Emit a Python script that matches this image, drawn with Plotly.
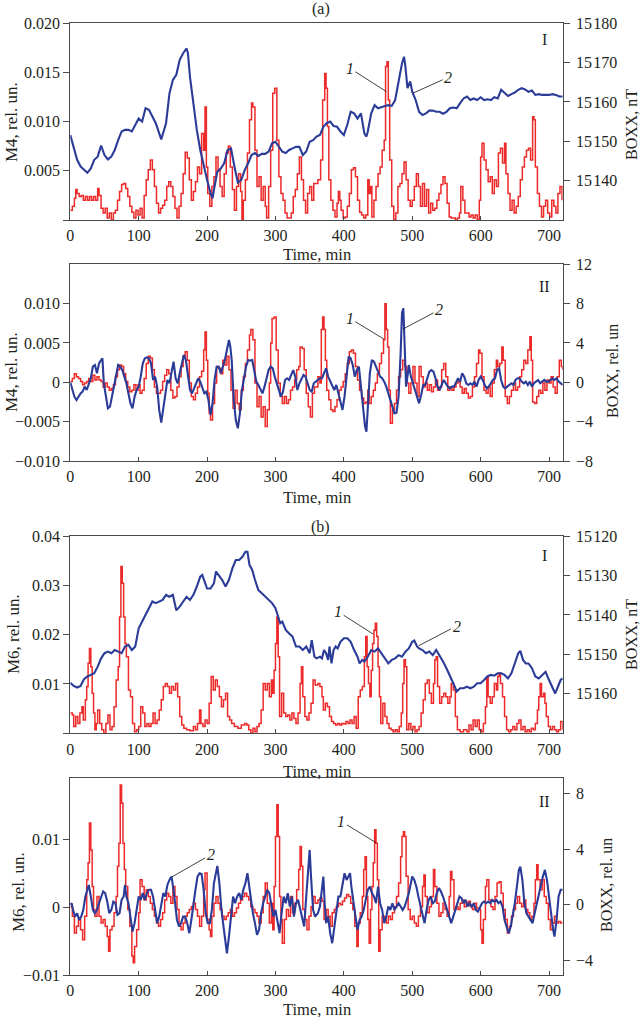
import plotly.graph_objects as go

# ---------------- DATA (time in min, value) ----------------
TIME_TICKS = [0, 100, 200, 300, 400, 500, 600, 700]
TIME_TICK_LABELS = ["0", "100", "200", "300", "400", "500", "600", "700"]

# Panel (a) I : M4 (red, left) and BOXX nT (blue, right)
A1_RED = [(0,.0010),(3,.0014),(6,.0022),(8,.0031),(10,.0027),(13,.0024),(16,.0025),(19,.0020),(22,.0024),(25,.0020),
 (28,.0024),(31,.0020),(34,.0024),(37,.0020),(40,.0032),(42,.0025),(45,.0012),(48,.0007),(51,.0012),(54,.0002),
 (57,.0007),(60,.0000),(63,.0007),(66,.0010),(69,.0020),(72,.0029),(75,.0036),(78,.0037),(81,.0032),(84,.0024),
 (87,.0014),(90,.0008),(93,.0002),(96,.0010),(99,.0005),(102,.0012),(105,.0002),(108,.0025),(111,.0041),(114,.0051),
 (117,.0061),(120,.0051),(123,.0034),(126,.0017),(129,.0007),(132,.0012),(135,.0015),(138,.0020),(141,.0034),(144,.0039),
 (147,.0034),(150,.0024),(153,.0012),(156,.0002),(159,.0014),(162,.0027),(165,.0047),(168,.0069),(171,.0063),(174,.0041),
 (177,.0020),(180,.0029),(183,.0039),(186,.0054),(189,.0047),(192,.0088),(195,.0071),(197,.0115),(199,.0054),(201,.0027),
 (204,.0014),(207,.0034),(210,.0044),(213,.0064),(216,.0051),(219,.0034),(222,.0024),(225,.0047),(228,.0068),(231,.0075),
 (234,.0054),(237,.0031),(240,.0010),(243,.0034),(246,.0047),(249,.0029),(251,.0000),(253,.0020),(256,.0041),(259,.0068),
 (262,.0102),(265,.0119),(267,.0115),(270,.0071),(273,.0034),(276,.0044),(279,.0020),(282,.0034),(285,.0014),(287,.0002),
 (290,.0034),(293,.0071),(296,.0129),(299,.0134),(302,.0081),(305,.0044),(308,.0027),(311,.0020),(314,.0007),(317,.0002),
 (320,.0002),(323,.0007),(326,.0024),(329,.0031),(332,.0047),(335,.0064),(338,.0041),(341,.0020),(344,.0007),(347,.0027),
 (350,.0034),(353,.0020),(356,.0037),(362,.0041),(366,.0061),(369,.0122),(372,.0149),(374,.0134),(376,.0095),(378,.0041),
 (381,.0020),(384,.0010),(387,.0003),(390,.0017),(392,.0029),(394,.0020),(396,.0010),(399,.0002),(402,.0003),(405,.0014),
 (408,.0027),(411,.0051),(414,.0053),(417,.0044),(420,.0020),(423,.0008),(426,.0005),(429,.0002),(432,.0005),(435,.0041),
 (437,.0027),(439,.0034),(441,.0003),(444,.0020),(447,.0034),(450,.0047),(453,.0054),(456,.0071),(459,.0081),(461,.0156),
 (463,.0161),(465,.0122),(467,.0061),(470,.0014),(473,.0000),(476,.0007),(479,.0034),(482,.0037),(485,.0047),(488,.0059),
 (491,.0041),(494,.0020),(497,.0014),(500,.0020),(503,.0034),(506,.0047),(509,.0034),(512,.0014),(515,.0037),(518,.0014),
 (521,.0031),(524,.0007),(527,.0017),(530,.0010),(533,.0012),(536,.0020),(539,.0027),(542,.0036),(545,.0044),(548,.0037),
 (551,.0017),(554,.0003),(557,.0002),(560,.0002),(563,.0000),(566,.0002),(569,.0007),(571,.0034),(574,.0020),(577,.0007),
 (580,.0007),(583,.0003),(586,.0005),(589,.0002),(592,.0005),(595,.0000),(598,.0020),(600,.0064),(602,.0078),(605,.0061),
 (608,.0051),(611,.0039),(614,.0044),(617,.0027),(620,.0041),(623,.0034),(626,.0068),(629,.0073),(632,.0058),(635,.0078),
 (637,.0047),(640,.0027),(643,.0010),(646,.0020),(649,.0007),(652,.0014),(655,.0024),(658,.0041),(661,.0054),(664,.0064),
 (667,.0071),(670,.0073),(673,.0061),(676,.0105),(678,.0102),(680,.0054),(683,.0027),(686,.0014),(689,.0003),(692,.0014),
 (695,.0020),(698,.0007),(701,.0003),(704,.0020),(707,.0014),(710,.0007),(713,.0027),(716,.0034),(719,.0020)]

A1_BLUE = [(0,15151.6),(5,15148.6),(10,15145.3),(15,15143.6),(20,15142.7),(25,15142.0),(30,15143.1),(35,15145.3),
 (40,15146.1),(45,15148.9),(50,15146.5),(55,15145.4),(60,15146.1),(65,15147.8),(70,15150.3),(75,15152.5),(80,15152.9),
 (85,15152.9),(90,15152.5),(95,15154.2),(100,15155.8),(105,15155.0),(110,15158.4),(115,15158.0),(120,15156.3),(125,15154.6),
 (130,15152.0),(133,15150.5),(140,15154.6),(145,15162.2),(150,15165.6),(155,15166.9),(160,15170.7),(165,15172.4),(170,15173.6),
 (172,15172.4),(175,15166.4),(180,15159.7),(185,15152.9),(190,15147.8),(195,15143.6),(200,15140.2),(205,15136.8),(208,15135.5),
 (210,15137.6),(215,15142.3),(220,15143.1),(225,15144.4),(230,15147.8),(235,15148.2),(240,15143.6),(245,15139.5),(250,15140.2),
 (255,15142.7),(260,15144.4),(265,15146.5),(270,15147.0),(275,15146.3),(280,15146.8),(285,15146.8),(290,15147.4),(295,15149.5),
 (300,15149.9),(305,15148.6),(310,15147.4),(315,15147.0),(320,15147.8),(325,15148.2),(330,15148.6),(335,15148.6),(340,15146.5),
 (345,15147.4),(350,15149.9),(355,15150.3),(360,15151.2),(365,15151.6),(370,15153.7),(375,15154.6),(380,15155.0),(385,15153.9),
 (390,15153.7),(395,15152.5),(400,15151.6),(405,15154.2),(410,15157.5),(415,15157.1),(420,15155.8),(425,15157.1),(430,15152.0),
 (433,15151.2),(435,15152.5),(440,15157.1),(445,15159.2),(450,15158.4),(455,15158.8),(460,15159.0),(465,15159.2),(470,15159.0),
 (475,15160.5),(480,15165.6),(485,15169.8),(488,15171.5),(490,15169.0),(493,15163.5),(497,15165.2),(500,15162.6),(505,15160.5),
 (510,15157.5),(515,15156.7),(520,15157.1),(525,15157.8),(530,15157.8),(535,15157.5),(540,15157.5),(545,15157.0),(550,15157.5),
 (555,15158.4),(560,15158.6),(565,15158.4),(570,15159.7),(575,15160.9),(580,15161.4),(585,15160.5),(590,15160.9),(595,15160.5),
 (600,15161.2),(605,15160.5),(610,15160.7),(615,15160.5),(620,15161.2),(625,15160.9),(630,15163.1),(635,15162.2),(640,15161.5),
 (645,15162.0),(650,15162.4),(655,15163.1),(660,15163.5),(665,15163.2),(670,15162.6),(675,15162.9),(680,15161.8),(685,15162.0),
 (690,15161.8),(695,15161.8),(700,15161.8),(705,15162.0),(710,15161.8),(715,15161.4),(720,15161.4)]

# Panel (a) II : M4 (red, left) and BOXX rel. un (blue, right)
A2_RED = [(0,.0001),(3,.0005),(6,.0011),(9,.0007),(12,.0005),(15,.0001),(18,-.0003),(21,-.0001),(24,.0001),(27,.0005),
 (30,.0001),(33,.0009),(36,.0003),(39,.0007),(42,.0003),(45,.0001),(48,-.0006),(51,-.0001),(54,-.0006),(57,-.0010),
 (60,-.0008),(63,-.0003),(66,.0007),(69,.0016),(72,.0022),(75,.0020),(78,.0011),(81,.0001),(84,-.0006),(87,-.0012),
 (90,-.0010),(93,-.0003),(96,-.0010),(99,-.0003),(102,-.0014),(105,-.0010),(108,.0005),(111,.0024),(114,.0033),(117,.0031),
 (120,.0016),(123,-.0006),(126,-.0014),(129,-.0014),(132,-.0010),(135,.0001),(138,.0009),(141,.0016),(144,.0011),(147,-.0010),
 (150,-.0020),(153,-.0018),(156,-.0006),(159,.0007),(162,.0020),(165,.0033),(168,.0039),(171,.0028),(174,-.0001),(177,-.0018),
 (180,-.0022),(183,-.0014),(186,-.0006),(189,.0007),(192,.0014),(195,.0041),(197,.0064),(199,.0028),(201,-.0014),(203,-.0039),
 (205,-.0048),(208,-.0027),(211,-.0001),(214,.0020),(217,.0018),(220,.0011),(223,.0028),(226,.0022),(229,.0033),(232,.0016),
 (235,-.0010),(238,-.0033),(241,-.0010),(244,-.0027),(247,-.0035),(250,-.0010),(253,.0007),(256,.0024),(259,.0041),(262,.0060),
 (264,.0067),(267,.0054),(270,-.0001),(273,-.0031),(276,-.0018),(279,-.0044),(282,-.0031),(285,-.0056),(288,-.0035),(291,-.0001),
 (293,.0050),(295,.0081),(298,.0083),(301,.0041),(304,-.0001),(307,-.0018),(310,-.0027),(313,-.0018),(316,-.0027),(319,-.0022),
 (322,-.0010),(325,-.0006),(328,.0003),(331,.0016),(334,.0020),(336,.0045),(339,.0043),(342,.0016),(345,-.0014),(348,-.0031),
 (351,-.0044),(354,-.0014),(357,-.0006),(362,.0007),(365,-.0001),(367,.0067),(369,.0083),(371,.0067),(373,.0028),(375,-.0010),
 (378,-.0022),(381,-.0035),(384,-.0037),(387,-.0031),(390,-.0022),(393,-.0010),(396,-.0006),(399,.0001),(402,.0011),(405,.0024),
 (408,.0039),(411,.0041),(414,.0037),(417,.0020),(420,.0003),(423,-.0010),(426,-.0020),(429,-.0027),(432,-.0025),(435,-.0010),
 (437,-.0027),(440,-.0018),(443,-.0010),(446,-.0001),(449,.0011),(452,.0024),(455,.0037),(458,.0054),(460,.0100),(462,.0067),
 (464,.0045),(466,-.0010),(468,-.0052),(471,-.0035),(474,-.0027),(477,-.0010),(480,.0007),(483,.0016),(486,.0028),(489,.0020),
 (492,-.0001),(495,-.0014),(498,-.0001),(501,.0020),(504,-.0001),(507,-.0018),(510,.0020),(513,.0007),(516,-.0006),(519,-.0001),
 (522,-.0010),(525,-.0003),(528,-.0012),(531,-.0006),(534,.0003),(537,-.0010),(540,-.0006),(543,.0016),(546,.0024),(549,.0007),
 (552,-.0010),(555,-.0006),(558,-.0010),(561,-.0006),(564,-.0001),(567,.0001),(570,-.0006),(573,-.0014),(576,-.0008),(579,-.0014),
 (582,-.0020),(585,-.0018),(588,-.0006),(591,.0007),(594,.0024),(597,.0041),(599,.0037),(602,.0007),(605,-.0010),(608,-.0014),
 (611,-.0006),(614,-.0018),(617,-.0001),(620,.0016),(623,.0028),(625,.0020),(628,.0024),(631,.0045),(633,.0028),(636,-.0018),
 (639,-.0027),(642,-.0018),(645,-.0010),(648,-.0001),(651,-.0010),(654,-.0006),(657,.0007),(660,.0016),(663,.0028),(666,.0024),
 (669,.0041),(672,.0058),(674,.0028),(676,-.0025),(679,-.0027),(682,-.0018),(685,-.0010),(688,-.0014),(691,-.0001),(694,-.0010),
 (697,.0003),(700,-.0001),(703,.0007),(706,-.0006),(709,-.0014),(712,.0007),(715,.0028),(718,.0020),(720,.0016)]

A2_BLUE = [(0,0),(3,-0.78),(6,-1.46),(9,-1.80),(12,-1.46),(15,-1.12),(18,-0.95),(21,-0.44),(24,-0.78),(27,-0.27),
 (30,0.41),(33,1.59),(36,1.76),(39,0.92),(42,1.93),(45,2.27),(47,2.44),(49,-0.10),(52,-1.46),(55,-2.64),
 (58,-2.47),(61,-1.46),(64,-0.61),(67,0.58),(70,1.76),(73,1.59),(76,1.25),(79,0.58),(82,-0.10),(85,-1.12),
 (88,-2.14),(91,-2.64),(94,-1.46),(97,-0.78),(100,-0.44),(103,0.58),(106,1.93),(109,2.44),(112,2.54),(115,2.44),
 (118,1.93),(121,0.24),(124,0.58),(127,-0.44),(130,-2.81),(133,-4.10),(136,-2.81),(139,-1.12),(142,0.24),(145,-0.10),
 (148,1.25),(151,2.10),(154,0.41),(157,-0.10),(160,0.92),(163,1.76),(166,2.78),(169,2.27),(172,0.92),(175,-0.78),
 (178,-1.12),(181,-0.61),(184,-0.10),(187,0.41),(190,0.07),(193,-0.61),(196,-1.12),(199,-0.95),(202,-1.80),(205,-3.32),
 (208,-2.14),(211,0.24),(214,1.59),(217,1.59),(220,0.92),(223,1.59),(226,2.27),(229,3.29),(232,4.31),(234,3.63),
 (236,2.27),(239,-1.80),(242,-3.83),(245,-4.68),(248,-3.15),(251,-0.78),(254,0.58),(257,1.59),(260,2.27),(263,2.20),
 (266,2.27),(269,0.92),(272,0.07),(275,-0.27),(278,-0.78),(281,-1.12),(284,-0.44),(287,0.58),(290,1.25),(293,1.59),
 (296,1.42),(299,0.58),(302,-0.10),(305,-0.78),(308,-1.46),(311,-0.95),(314,0.24),(317,0.41),(320,0.24),(323,0.75),
 (326,1.25),(329,0.58),(332,-0.78),(335,-0.10),(338,0.41),(341,0.75),(344,0.58),(347,-0.10),(350,-0.78),(353,-0.95),
 (356,-0.10),(365,0.41),(368,0.41),(371,0.92),(374,1.42),(377,0.58),(380,0.07),(383,-0.44),(386,-0.78),(389,-0.27),
 (392,-1.12),(395,-1.80),(398,-2.81),(401,-1.46),(404,0.58),(407,2.61),(410,2.44),(413,1.76),(416,0.58),(419,1.25),
 (422,1.59),(425,-0.44),(428,-2.47),(431,-4.51),(433,-5.02),(435,-2.47),(438,0.92),(441,2.27),(444,2.10),(447,1.59),
 (450,1.08),(453,0.58),(456,0.41),(459,0.07),(462,-0.44),(465,-1.12),(468,-1.80),(471,-2.64),(474,-3.15),(477,-3.08),
 (480,-1.46),(483,2.95),(485,7.02),(487,7.53),(489,3.97),(491,-0.44),(493,0.58),(495,1.76),(498,0.58),(501,-0.10),
 (504,-0.78),(507,-1.46),(510,-2.14),(513,-1.29),(516,-0.27),(519,-0.27),(522,0.41),(525,1.08),(528,1.25),(531,1.08),
 (534,0.41),(537,-0.44),(540,-0.78),(543,-0.27),(546,0.24),(549,-0.10),(552,-0.44),(555,-0.61),(558,-0.44),(561,-0.44),
 (564,0.07),(567,0.41),(570,0.07),(573,0.92),(576,0.58),(579,-0.10),(582,-0.27),(585,-0.10),(588,-0.27),(591,0.07),
 (594,-0.44),(597,0.24),(600,0.58),(603,0.24),(606,-0.27),(609,-0.61),(612,-0.44),(615,-0.10),(618,0.24),(621,0.41),
 (624,1.25),(627,1.42),(630,0.24),(633,-0.44),(636,-0.61),(639,-0.44),(642,-0.27),(645,-0.10),(648,-0.27),(651,0.24),
 (654,0.41),(657,0.41),(660,0.07),(663,-0.10),(666,0.07),(669,-0.27),(672,0.07),(675,-0.44),(678,-0.10),(681,0.07),
 (684,0.24),(687,-0.10),(690,0.07),(693,0.24),(696,0.07),(699,0.07),(702,0.24),(705,0.41),(708,0.24),(711,0.41),
 (714,0.07),(717,-0.10),(720,-0.27)]

# Panel (b) I : M6 (red, left) and BOXX nT (blue, right, reversed)
B1_RED = [(0,.0041),(3,.0037),(5,.0014),(8,.0034),(11,.0020),(14,.0041),(17,.0054),(19,.0027),(22,.0068),(24,.0095),
 (26,.0142),(28,.0172),(30,.0135),(32,.0081),(34,.0041),(36,.0007),(38,.0020),(40,.0047),(43,.0020),(46,.0007),
 (49,.0000),(52,.0020),(55,.0037),(58,.0007),(61,.0014),(64,.0054),(67,.0108),(70,.0135),(72,.0236),(74,.0338),
 (76,.0304),(78,.0236),(80,.0182),(82,.0155),(85,.0088),(88,.0074),(91,.0020),(94,.0003),(97,.0007),(100,.0014),
 (103,.0054),(106,.0041),(109,.0014),(112,.0020),(115,.0014),(118,.0020),(121,.0041),(124,.0020),(127,.0027),(130,.0047),
 (133,.0068),(136,.0095),(139,.0101),(142,.0095),(145,.0081),(148,.0095),(151,.0088),(154,.0101),(157,.0074),(160,.0034),
 (163,.0017),(166,.0010),(170,.0007),(175,.0005),(180,.0014),(183,.0007),(186,.0020),(189,.0047),(191,.0020),(194,.0014),
 (197,.0027),(200,.0020),(203,.0061),(206,.0115),(209,.0088),(212,.0108),(215,.0095),(218,.0074),(221,.0054),(224,.0068),
 (227,.0081),(230,.0034),(233,.0027),(236,.0020),(240,.0014),(245,.0010),(250,.0017),(255,.0020),(258,.0017),(261,.0007),
 (264,.0000),(267,.0010),(270,.0003),(273,.0014),(276,.0020),(279,.0047),(282,.0101),(285,.0088),(288,.0101),(291,.0074),
 (294,.0108),(296,.0081),(298,.0128),(300,.0182),(302,.0236),(304,.0155),(306,.0034),(309,.0081),(312,.0041),(315,.0034),
 (318,.0037),(321,.0027),(324,.0041),(327,.0030),(330,.0020),(333,.0041),(336,.0101),(338,.0135),(340,.0074),(343,.0034),
 (346,.0027),(349,.0041),(352,.0061),(355,.0108),(358,.0098),(362,.0101),(365,.0095),(368,.0074),(370,.0047),(373,.0061),
 (376,.0054),(379,.0034),(382,.0024),(385,.0020),(388,.0017),(391,.0020),(394,.0017),(397,.0020),(400,.0019),(403,.0024),
 (406,.0020),(409,.0027),(412,.0020),(415,.0034),(418,.0010),(421,.0074),(424,.0088),(427,.0095),(430,.0155),(432,.0196),
 (434,.0135),(436,.0101),(438,.0074),(440,.0128),(442,.0182),(444,.0209),(446,.0223),(448,.0196),(450,.0135),(452,.0074),
 (454,.0020),(457,.0061),(460,.0034),(463,.0020),(466,.0010),(469,.0007),(472,.0003),(475,.0007),(478,.0003),(481,.0014),
 (484,.0041),(486,.0101),(488,.0149),(490,.0135),(492,.0007),(495,.0020),(498,.0007),(501,.0014),(504,.0003),(507,.0007),
 (510,.0014),(513,.0041),(516,.0068),(519,.0101),(522,.0108),(525,.0081),(528,.0061),(531,.0101),(533,.0149),(535,.0155),
 (537,.0095),(540,.0061),(543,.0074),(546,.0081),(549,.0074),(552,.0061),(555,.0074),(557,.0101),(560,.0088),(563,.0034),
 (566,.0007),(570,.0003),(575,.0007),(580,.0003),(583,.0017),(586,.0007),(589,.0027),(592,.0014),(595,.0027),(598,.0007),
 (601,.0003),(604,.0020),(607,.0054),(609,.0115),(611,.0074),(614,.0061),(617,.0074),(620,.0101),(623,.0088),(625,.0115),
 (627,.0122),(629,.0101),(632,.0074),(635,.0034),(638,.0007),(641,.0003),(644,.0007),(647,.0014),(650,.0007),(653,.0020),
 (656,.0027),(659,.0007),(662,.0014),(665,.0003),(668,.0007),(671,.0003),(674,.0010),(677,.0007),(680,.0020),(683,.0047),
 (685,.0074),(687,.0101),(689,.0074),(692,.0081),(694,.0061),(696,.0034),(699,.0014),(702,.0007),(705,.0014),(708,.0007),
 (711,.0003),(714,.0007),(717,.0024),(720,.0007)]

B1_BLUE = [(0,15157.2),(5,15158.0),(10,15158.4),(15,15158.0),(20,15156.3),(25,15155.6),(30,15155.2),(35,15154.8),
 (40,15153.1),(45,15151.0),(50,15149.7),(55,15149.3),(60,15149.7),(65,15148.9),(70,15149.3),(75,15149.7),(80,15148.0),
 (85,15147.6),(90,15148.9),(95,15148.0),(100,15143.4),(105,15141.7),(110,15139.6),(115,15137.9),(120,15136.6),(125,15137.0),
 (130,15136.6),(135,15136.2),(140,15134.9),(145,15135.4),(150,15134.9),(155,15138.8),(160,15137.9),(165,15136.6),(170,15135.4),
 (175,15136.2),(180,15134.9),(185,15132.8),(190,15130.3),(193,15129.9),(197,15132.0),(200,15133.3),(205,15133.3),(210,15132.0),
 (213,15129.0),(217,15129.9),(222,15131.1),(227,15132.8),(232,15131.1),(237,15128.2),(242,15126.1),(247,15126.1),(252,15125.2),
 (256,15124.0),(259,15124.0),(262,15127.3),(266,15128.6),(270,15131.1),(275,15133.7),(280,15134.5),(285,15135.4),(290,15136.2),
 (295,15137.0),(300,15138.3),(303,15140.0),(307,15142.1),(310,15141.7),(315,15143.8),(320,15144.7),(325,15145.5),(330,15148.0),
 (335,15148.0),(340,15148.9),(345,15148.0),(350,15149.7),(353,15146.4),(357,15150.6),(360,15151.0),(365,15150.6),(368,15151.0),
 (371,15148.9),(374,15149.7),(377,15151.4),(379,15148.0),(382,15152.3),(385,15148.9),(388,15148.0),(391,15148.5),(395,15146.8),
 (400,15145.9),(405,15145.9),(410,15146.8),(415,15148.9),(420,15150.6),(423,15152.3),(427,15151.4),(430,15151.8),(435,15150.6),
 (440,15148.9),(445,15149.3),(450,15148.5),(455,15149.7),(460,15151.0),(465,15152.3),(470,15151.4),(475,15151.0),(480,15150.2),
 (485,15150.6),(490,15149.3),(495,15148.5),(500,15146.8),(503,15146.5),(507,15148.0),(510,15148.5),(515,15148.9),(520,15149.7),
 (525,15149.3),(530,15150.2),(535,15148.9),(540,15150.2),(545,15151.8),(550,15153.5),(555,15155.2),(560,15157.3),(565,15159.4),
 (570,15158.6),(575,15158.6),(580,15158.2),(585,15158.6),(590,15158.2),(595,15157.3),(600,15157.3),(605,15156.5),(610,15155.6),
 (615,15155.2),(620,15155.4),(625,15154.8),(630,15154.8),(635,15155.2),(640,15156.1),(645,15154.8),(650,15152.3),(655,15149.7),
 (658,15149.1),(662,15151.4),(666,15152.3),(670,15152.3),(675,15153.5),(680,15155.6),(685,15156.1),(690,15155.2),(695,15154.4),
 (700,15156.5),(705,15158.2),(709,15159.9),(713,15158.2),(717,15156.5),(720,15156.1)]

# Panel (b) II : M6 (red, left) and BOXX rel. un (blue, right)
B2_RED = [(0,.0001),(3,-.0013),(6,-.0038),(9,-.0028),(12,-.0018),(15,-.0033),(18,-.0048),(21,-.0013),(24,.0041),(26,.0066),
 (28,.0125),(30,.0085),(32,.0031),(34,-.0003),(36,-.0013),(39,.0016),(42,-.0013),(45,-.0023),(48,-.0018),(51,-.0028),
 (54,-.0043),(56,-.0065),(58,-.0033),(61,-.0028),(64,-.0008),(67,.0016),(69,.0061),(71,.0095),(73,.0181),(75,.0154),
 (77,.0095),(79,.0056),(81,.0031),(84,-.0003),(87,-.0028),(90,-.0072),(92,-.0082),(94,-.0058),(97,-.0033),(100,-.0008),
 (102,.0041),(105,.0031),(108,.0011),(111,.0026),(114,.0016),(117,.0006),(120,-.0003),(123,-.0013),(126,-.0023),(129,-.0028),
 (132,-.0018),(135,-.0008),(138,.0011),(141,.0021),(144,.0016),(147,.0006),(150,.0031),(153,.0016),(156,-.0003),(159,-.0028),
 (162,-.0033),(165,-.0023),(168,-.0013),(171,-.0008),(174,-.0003),(177,.0001),(180,.0006),(183,-.0003),(186,-.0013),(189,-.0028),
 (192,-.0013),(195,.0026),(197,.0051),(200,-.0018),(203,-.0033),(205,-.0043),(207,-.0013),(210,.0006),(213,.0016),(216,.0006),
 (219,-.0003),(222,-.0013),(225,-.0018),(228,-.0013),(231,-.0008),(234,-.0003),(237,-.0013),(240,-.0008),(243,-.0001),(246,.0006),
 (249,.0011),(252,.0016),(255,.0021),(258,.0016),(261,.0011),(264,.0001),(267,-.0003),(270,-.0008),(273,-.0013),(276,-.0023),
 (279,-.0008),(282,.0016),(285,.0036),(288,.0006),(291,-.0023),(294,.0006),(296,-.0033),(298,.0031),(300,.0105),(302,.0152),
 (304,.0105),(306,.0016),(308,-.0018),(310,-.0053),(313,-.0018),(316,-.0003),(319,-.0013),(322,.0016),(325,-.0008),(328,.0006),
 (331,.0026),(334,.0056),(336,.0090),(338,.0061),(340,-.0003),(343,-.0018),(346,-.0033),(349,-.0013),(352,.0001),(355,.0016),
 (358,.0006),(362,.0011),(365,.0014),(368,.0009),(371,-.0018),(374,-.0003),(377,-.0013),(380,-.0028),(383,-.0008),(386,-.0003),
 (389,.0001),(392,.0006),(395,.0004),(398,.0009),(401,.0014),(404,.0019),(407,.0016),(410,.0006),(413,-.0003),(416,-.0028),
 (419,-.0058),(421,-.0023),(424,-.0008),(427,.0016),(429,.0056),(431,.0075),(433,.0016),(435,-.0018),(437,-.0053),(439,-.0003),
 (441,.0031),(443,.0066),(445,.0115),(447,.0095),(449,.0041),(451,-.0065),(453,-.0033),(456,-.0013),(459,-.0018),(462,-.0023),
 (465,-.0013),(468,-.0018),(471,-.0008),(474,.0001),(477,.0016),(480,.0036),(483,.0075),(485,.0105),(487,.0112),(489,.0105),
 (491,.0046),(494,-.0003),(497,-.0018),(500,-.0013),(503,-.0023),(506,-.0028),(509,-.0013),(512,.0001),(515,.0031),(517,.0048),
 (519,.0016),(522,-.0008),(525,.0001),(528,.0016),(531,.0056),(533,.0031),(536,.0006),(539,-.0013),(542,-.0008),(545,.0006),
 (548,-.0003),(551,-.0013),(554,.0016),(556,.0053),(558,.0041),(561,-.0003),(564,.0001),(567,-.0003),(570,.0006),(573,.0011),
 (576,.0001),(579,.0006),(582,.0009),(585,.0001),(588,-.0003),(591,.0006),(594,-.0001),(597,-.0003),(600,-.0033),(602,-.0053),
 (604,-.0018),(607,.0031),(609,.0041),(612,.0011),(615,.0001),(618,-.0003),(621,.0016),(624,.0036),(627,.0038),(630,.0021),
 (633,-.0003),(636,-.0018),(639,-.0038),(642,-.0028),(645,-.0013),(648,-.0003),(651,.0006),(654,.0016),(657,.0006),(660,.0001),
 (663,.0011),(666,-.0003),(669,-.0008),(672,-.0018),(675,-.0013),(678,.0006),(680,.0041),(682,.0063),(684,.0041),(687,.0026),
 (690,.0041),(693,.0016),(696,.0006),(699,-.0018),(702,-.0033),(705,-.0023),(708,-.0013),(711,-.0023),(714,-.0021),(717,-.0023),
 (720,-.0023)]

B2_BLUE = [(0,0),(2,0.12),(4,-0.36),(7,-0.84),(10,-0.60),(13,-1.08),(16,-0.84),(19,-0.36),(22,0.60),(25,1.20),
 (27,1.43),(30,0.60),(33,-0.36),(36,-0.60),(39,-0.36),(42,0.12),(45,0.60),(48,0.96),(51,0.84),(54,0.24),
 (57,-0.60),(60,-0.36),(63,0.24),(66,0.12),(69,-0.72),(72,-0.60),(75,0.36),(78,0.60),(80,1.43),(82,0.60),
 (85,0.12),(88,-1.08),(91,-1.91),(94,-1.31),(97,-0.36),(100,0.60),(103,0.36),(106,0.84),(109,0.36),(112,0.84),
 (115,1.08),(118,1.08),(121,0.60),(124,-0.36),(127,-1.31),(130,-0.84),(133,0.12),(136,0.84),(139,0.60),(142,1.43),
 (145,1.79),(148,2.03),(151,1.08),(153,0.12),(156,-1.08),(159,-1.55),(162,-1.31),(165,-0.84),(168,-0.84),(171,-1.31),
 (174,-2.03),(177,-1.08),(180,0.12),(183,1.08),(186,2.03),(189,2.27),(192,2.22),(195,1.08),(198,-0.60),(201,-1.31),
 (204,-1.31),(207,-0.36),(210,1.55),(213,2.51),(215,2.80),(218,1.55),(221,-0.36),(224,-1.55),(227,-2.75),(229,-3.47),
 (232,-2.27),(235,-0.60),(238,0.60),(241,0.12),(244,0.60),(247,0.84),(250,0.36),(253,1.08),(256,1.55),(259,2.27),
 (261,1.55),(264,0.12),(267,-0.60),(270,-1.31),(273,-2.15),(276,-1.79),(279,-0.60),(282,0.12),(285,0.60),(288,1.08),
 (291,0.84),(294,0.12),(297,-0.84),(300,-0.36),(303,-1.31),(306,-2.03),(309,-0.60),(312,0.60),(315,0.12),(318,0.84),
 (321,-0.12),(324,0.60),(327,-0.84),(330,0.12),(333,0.36),(336,-0.36),(339,-0.84),(342,-1.55),(345,0.60),(348,2.51),
 (350,3.94),(352,2.03),(355,-0.36),(358,-0.84),(362,-0.60),(365,-0.12),(368,1.31),(370,2.03),(372,0.12),(374,-1.31),
 (377,-0.84),(380,-2.03),(383,-2.75),(386,-1.55),(389,-0.36),(392,0.60),(395,0.60),(398,1.31),(401,2.27),(404,1.79),
 (407,2.03),(409,2.27),(411,1.31),(414,0.12),(417,-0.84),(420,-1.79),(423,-1.08),(426,-0.84),(429,-0.36),(432,0.36),
 (435,1.08),(438,1.31),(441,0.84),(444,0.60),(447,0.12),(450,1.31),(453,0.12),(456,-0.36),(459,-1.31),(462,-0.84),
 (465,-0.12),(468,-0.36),(471,0.12),(474,-0.36),(477,-0.12),(480,0.12),(483,-0.12),(486,-0.36),(489,-0.12),(492,0.36),
 (495,0.84),(498,1.55),(500,2.03),(503,1.79),(506,1.31),(509,0.60),(512,-0.12),(515,-0.84),(518,-1.31),(521,-0.36),
 (524,0.36),(527,0.60),(530,0.12),(533,0.24),(536,0.84),(539,1.20),(542,0.96),(545,0.60),(548,0.12),(551,-0.36),
 (554,-0.84),(557,-1.31),(560,-0.84),(563,-0.36),(566,0.12),(569,0.60),(572,0.48),(575,0.12),(578,0.36),(581,-0.12),
 (584,0.12),(587,-0.12),(590,0.12),(593,-0.36),(596,-0.48),(599,-0.12),(602,0.12),(605,0.24),(608,0.12),(611,0.24),
 (614,0.12),(617,0.36),(620,0.24),(623,0.36),(626,0.12),(629,0.24),(632,-0.12),(635,-1.08),(638,-1.55),(641,-2.03),
 (644,-1.55),(647,-0.84),(650,0.12),(653,1.31),(656,2.51),(658,2.75),(661,1.79),(664,0.12),(667,-0.60),(670,-0.84),
 (673,-1.08),(676,-1.31),(679,-0.60),(682,0.12),(685,0.84),(688,1.55),(691,2.03),(694,2.51),(697,1.79),(700,0.60),
 (703,-0.84),(706,-1.79),(708,-2.27),(711,-1.08),(714,0.60),(717,1.08),(720,1.08)]

# Axis ticks / labels
A1_LEFT_TICKS = [0, 0.005, 0.010, 0.015, 0.020]
A1_LEFT_LABELS = ["", "0.005", "0.010", "0.015", "0.020"]
A1_RIGHT_TICKS = [15140, 15150, 15160, 15170, 15180]
A1_RIGHT_LABELS = ["15\u200a140", "15\u200a150", "15\u200a160", "15\u200a170", "15\u200a180"]
A2_LEFT_TICKS = [-0.010, -0.005, 0, 0.005, 0.010]
A2_LEFT_LABELS = ["\u22120.010", "\u22120.005", "0", "0.005", "0.010"]
A2_RIGHT_TICKS = [-8, -4, 0, 4, 8, 12]
A2_RIGHT_LABELS = ["\u22128", "\u22124", "0", "4", "8", "12"]
B1_LEFT_TICKS = [0, 0.01, 0.02, 0.03, 0.04]
B1_LEFT_LABELS = ["", "0.01", "0.02", "0.03", "0.04"]
B1_RIGHT_TICKS = [15120, 15130, 15140, 15150, 15160]
B1_RIGHT_LABELS = ["15\u200a120", "15\u200a130", "15\u200a140", "15\u200a150", "15\u200a160"]
B2_LEFT_TICKS = [-0.01, 0, 0.01]
B2_LEFT_LABELS = ["\u22120.01", "0", "0.01"]
B2_RIGHT_TICKS = [-4, 0, 4, 8]
B2_RIGHT_LABELS = ["\u22124", "0", "4", "8"]

# ---------------- LAYOUT ----------------
W, H = 641, 1020
FONT = "Liberation Serif, Times New Roman, serif"
RED = "#ec2a2a"
BLUE = "#2b3c98"
AX = "#4a4a4a"
TXT = "#231f20"
TICK_FS = 16
PX_L, PX_R = 70.3, 562.7
PANELS_PX = [(23.3, 220.0), (264.3, 461.0), (536.0, 733.3), (778.3, 975.0)]

def xd(px):
    return px / W

def yd(py):
    return 1 - py / H

fig = go.Figure()

panel_specs = [
    dict(red=A1_RED, blue=A1_BLUE, lrange=[0, 0.020], rrange=[15130, 15180],
         lt=A1_LEFT_TICKS, ll=A1_LEFT_LABELS, rt=A1_RIGHT_TICKS, rl=A1_RIGHT_LABELS),
    dict(red=A2_RED, blue=A2_BLUE, lrange=[-0.010, 0.015], rrange=[-8, 12],
         lt=A2_LEFT_TICKS, ll=A2_LEFT_LABELS, rt=A2_RIGHT_TICKS, rl=A2_RIGHT_LABELS),
    dict(red=B1_RED, blue=B1_BLUE, lrange=[0, 0.04], rrange=[15170, 15120],
         lt=B1_LEFT_TICKS, ll=B1_LEFT_LABELS, rt=B1_RIGHT_TICKS, rl=B1_RIGHT_LABELS),
    dict(red=B2_RED, blue=B2_BLUE, lrange=[-0.01, 0.0191], rrange=[-5.03, 9.08],
         lt=B2_LEFT_TICKS, ll=B2_LEFT_LABELS, rt=B2_RIGHT_TICKS, rl=B2_RIGHT_LABELS),
]

layout = dict(width=W, height=H, margin=dict(l=0, r=0, t=0, b=0),
              paper_bgcolor="white", plot_bgcolor="white", showlegend=False,
              font=dict(family=FONT, size=15, color=TXT))

for k, sp in enumerate(panel_specs, start=1):
    yl = 2 * k - 1
    yr = 2 * k
    xname = "x" if k == 1 else f"x{k}"
    ylname = "y" if yl == 1 else f"y{yl}"
    yrname = f"y{yr}"
    rt, rv = zip(*sp["red"])
    bt, bv = zip(*sp["blue"])
    fig.add_trace(go.Scatter(x=rt, y=rv, mode="lines", line=dict(color=RED, width=1.5, shape="hv"),
                             xaxis=xname, yaxis=ylname, hoverinfo="skip"))
    fig.add_trace(go.Scatter(x=bt, y=bv, mode="lines", line=dict(color=BLUE, width=2.1),
                             xaxis=xname, yaxis=yrname, hoverinfo="skip"))
    top, bot = PANELS_PX[k - 1]
    dom_y = [yd(bot), yd(top)]
    layout["xaxis" if k == 1 else f"xaxis{k}"] = dict(
        domain=[xd(PX_L), xd(PX_R)], anchor=ylname, range=[0, 720],
        tickvals=TIME_TICKS, ticktext=TIME_TICK_LABELS, ticks="inside", ticklen=4,
        tickcolor=AX, showline=True, linecolor=AX, linewidth=1, mirror=True,
        showgrid=False, zeroline=False, automargin=False, ticklabelstandoff=1,
        tickfont=dict(family=FONT, size=TICK_FS, color=TXT))
    layout["yaxis" if yl == 1 else f"yaxis{yl}"] = dict(
        domain=dom_y, anchor=xname, range=sp["lrange"], tickvals=sp["lt"], ticktext=sp["ll"],
        ticks="outside", ticklen=6, tickcolor=AX, showline=True, linecolor=AX, linewidth=1,
        showgrid=False, zeroline=False, automargin=False, ticklabelstandoff=0,
        tickfont=dict(family=FONT, size=TICK_FS, color=TXT))
    layout[f"yaxis{yr}"] = dict(
        overlaying=ylname, side="right", anchor=xname, range=sp["rrange"],
        tickvals=sp["rt"], ticktext=sp["rl"], ticks="outside", ticklen=6, tickcolor=AX,
        showline=True, linecolor=AX, linewidth=1, showgrid=False, zeroline=False,
        automargin=False, ticklabelstandoff=3,
        tickfont=dict(family=FONT, size=TICK_FS, color=TXT))

fig.update_layout(**layout)

ann = []
def txt(x, y, s, angle=0, size=16):
    ann.append(dict(x=xd(x), y=yd(y), xref="paper", yref="paper", text=s, showarrow=False,
                    textangle=angle, xanchor="center", yanchor="middle", borderpad=0,
                    font=dict(family=FONT, size=size, color=TXT)))

# panel headers and roman numerals
txt(320.5, 9, "(a)")
txt(320.5, 527, "(b)")
txt(544, 40, "I")
txt(544, 286, "II")
txt(544, 555, "I")
txt(544, 801, "II")
# axis titles
txt(316.5, 254.5, "Time, min", size=16.5)
txt(316.5, 497.5, "Time, min", size=16.5)
txt(316.5, 771, "Time, min", size=16.5)
txt(316.5, 1009.5, "Time, min", size=16.5)
txt(11, 122, "M4, rel. un.", angle=-90, size=17)
txt(11, 372, "M4, rel. un.", angle=-90, size=17)
txt(13, 634, "M6, rel. un.", angle=-90, size=17)
txt(18, 892, "M6, rel. un.", angle=-90, size=17)
txt(631, 125, "BOXX, nT", angle=-90)
txt(612, 371, "BOXX, rel. un", angle=-90)
txt(631, 635, "BOXX, nT", angle=-90)
txt(606, 885, "BOXX, rel. un", angle=-90)

# curve labels with leader lines (tip on curve, text offset in px)
def lab(xref, yref, x, y, s, ax, ay):
    ann.append(dict(x=x, y=y, xref=xref, yref=yref, text=s, showarrow=True, arrowhead=0,
                    arrowwidth=0.8, arrowcolor="#111", ax=ax, ay=ay, standoff=0,
                    font=dict(family=FONT, size=16, color=TXT, style="italic")))

lab("x", "y", 462.4, 0.01305, "1", -36.7, -23.4)
lab("x", "y", 500.4, 0.01288, "2", 35.6, -16)
lab("x2", "y3", 458.9, 0.00547, "1", -34.3, -21)
lab("x2", "y3", 486.6, 0.00678, "2", 36, -19)
lab("x3", "y5", 442.8, 0.02013, "1", -35, -22.3)
lab("x3", "y5", 509.6, 0.01776, "2", 37.7, -19.7)
lab("x4", "y7", 148.2, 0.00449, "2", 39, -22.3)
lab("x4", "y7", 446.7, 0.0096, "1", -34.3, -21)

fig.update_layout(annotations=ann)
# remove the default page margin so the 641x1020 figure fills the window exactly
fig.write_html("out.html", config={"displayModeBar": False, "responsive": False},
               post_script="document.body.style.margin='0';document.body.style.overflow='hidden';")
